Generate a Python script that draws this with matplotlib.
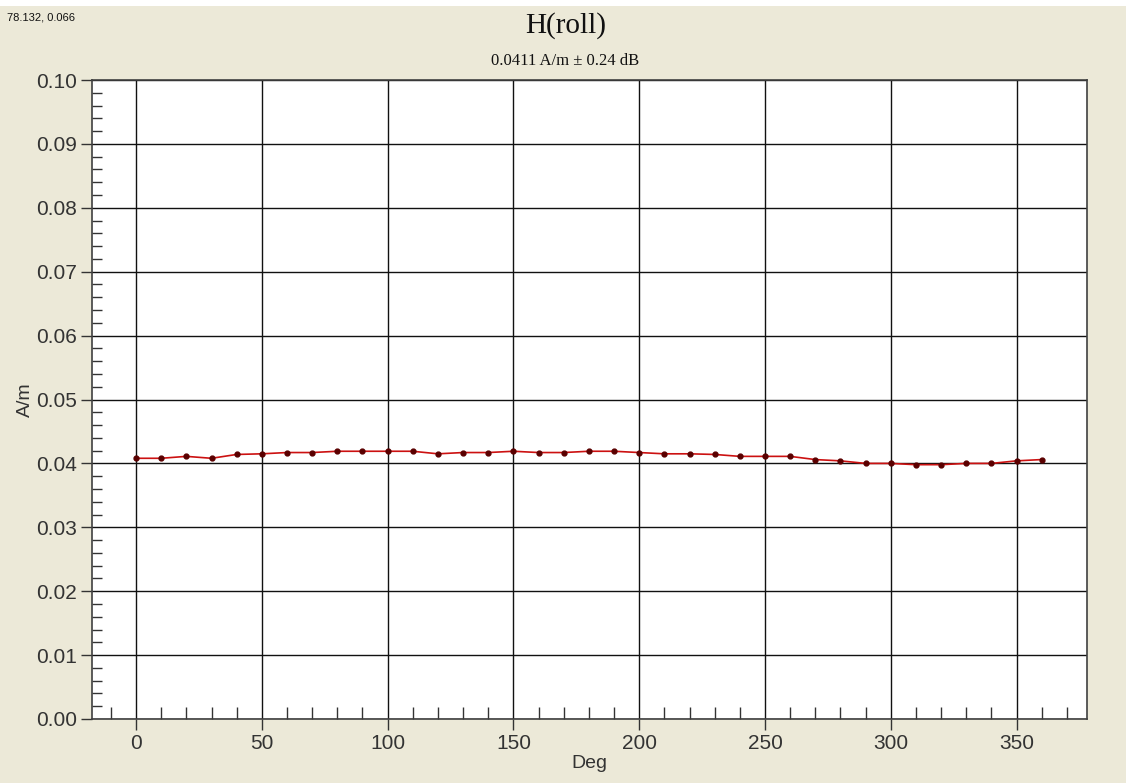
import matplotlib
matplotlib.use("Agg")
import matplotlib.pyplot as plt
from matplotlib.ticker import MultipleLocator
import numpy as np

# roll angle (deg) and measured field (A/m)
deg = list(range(0, 361, 10))
field = [0.0408, 0.0408, 0.0411, 0.0408, 0.0414, 0.0415, 0.0417, 0.0417, 0.0419, 0.0419,
         0.0419, 0.0419, 0.0415, 0.0417, 0.0417, 0.0419, 0.0417, 0.0417, 0.0419, 0.0419,
         0.0417, 0.0415, 0.0415, 0.0414, 0.0411, 0.0411, 0.0411, 0.0406, 0.0404, 0.0400,
         0.0400, 0.0398, 0.0398, 0.0400, 0.0400, 0.0404, 0.0406]

title = "H(roll)"
subtitle = "0.0411 A/m \u00b1 0.24 dB"
cursor = "78.132, 0.066"

bg = "#ECE9D8"
txt = "#333333"

fig = plt.figure(figsize=(11.26, 7.83), dpi=100, facecolor=bg)
# thin white strip along the top edge
fig.patches.append(plt.Rectangle((0, 1 - 6 / 783), 1, 6 / 783, transform=fig.transFigure,
                                 facecolor="white", edgecolor="none"))

ax = fig.add_axes([92 / 1126, 1 - 719 / 783, (1087 - 92) / 1126, (719 - 80) / 783])
ax.set_facecolor("white")

ax.plot(deg, field, color="#CC1111", lw=1.2, marker="o", ms=3.5,
        mfc="#5a0000", mec="#5a0000", zorder=3)

ax.set_xlim(-17.5, 378)
ax.set_ylim(0, 0.10)
ax.xaxis.set_major_locator(MultipleLocator(50))
ax.xaxis.set_minor_locator(MultipleLocator(10))
ax.yaxis.set_major_locator(MultipleLocator(0.01))
ax.yaxis.set_minor_locator(MultipleLocator(0.002))
ax.yaxis.set_major_formatter(matplotlib.ticker.FormatStrFormatter("%.2f"))

ax.grid(which="major", color="#111111", lw=1.0)
ax.set_axisbelow(True)

ax.tick_params(which="major", direction="out", length=8, width=1, color="#333333",
               labelsize=15, labelcolor=txt)
ax.tick_params(which="minor", direction="in", length=7, width=1, color="#333333")
ax.tick_params(axis="x", which="minor", length=8.5)
ax.tick_params(axis="x", which="major", pad=3)
ax.tick_params(axis="y", which="major", pad=3)

for s in ax.spines.values():
    s.set_color("#404040")
    s.set_linewidth(1.2)

plt.rcParams["font.family"] = ["Liberation Sans", "DejaVu Sans"]
for lab in ax.get_xticklabels() + ax.get_yticklabels():
    lab.set_family("Liberation Sans")

ax.set_xlabel("Deg", fontsize=14, color=txt, family="Liberation Sans", labelpad=1)
ax.set_ylabel("A/m", fontsize=14, color=txt, family="Liberation Sans", labelpad=1)

fig.text(0.502, 1 - 26 / 783, title, ha="center", va="center", fontsize=21,
         family="Liberation Serif", color="#111111")
fig.text(0.502, 1 - 61 / 783, subtitle, ha="center", va="center", fontsize=12,
         family="Liberation Serif", color="#111111")
fig.text(7 / 1126, 1 - 18 / 783, cursor, ha="left", va="center", fontsize=8,
         family="Liberation Sans", color="#111111")

fig.savefig("out.png", dpi=100, facecolor=bg)
